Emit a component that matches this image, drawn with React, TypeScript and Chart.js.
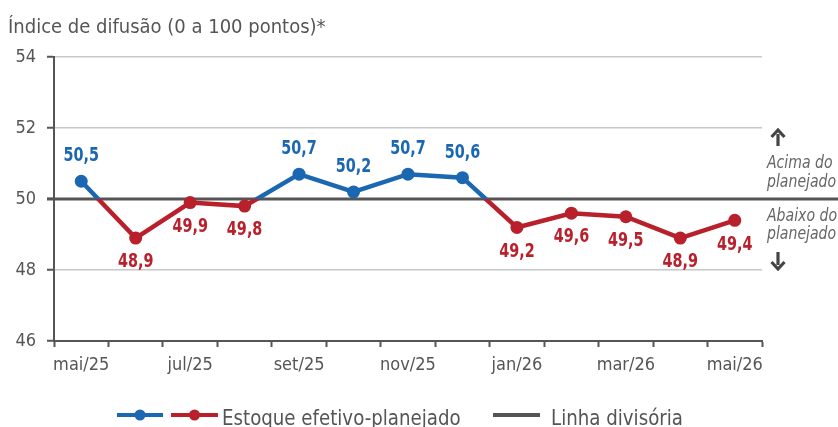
import React, { useEffect, useRef } from 'react';
import { Chart, registerables } from 'chart.js';

Chart.register(...registerables);

const categories = ['mai/25', 'jun/25', 'jul/25', 'ago/25', 'set/25', 'out/25', 'nov/25', 'dez/25', 'jan/26', 'fev/26', 'mar/26', 'abr/26', 'mai/26'];
const estoque = [50.5, 48.9, 49.9, 49.8, 50.7, 50.2, 50.7, 50.6, 49.2, 49.6, 49.5, 48.9, 49.4];
const divisoria = 50;
const yMin = 46;
const yMax = 54;
const yStep = 2;

const subtitle = 'Índice de difusão (0 a 100 pontos)*';
const seriesName = 'Estoque efetivo-planejado';
const dividerName = 'Linha divisória';
const aboveText = ['Acima do', 'planejado'];
const belowText = ['Abaixo do', 'planejado'];

const BLUE = '#1b67b2';
const RED = '#b8202b';
const DARK = '#555555';
const GRID = '#c8c8c8';
const FONT = '"Liberation Sans Narrow", "DejaVu Sans Condensed", "Roboto Condensed", sans-serif';

const fmt = (v: number) => v.toFixed(1).replace('.', ',');
const colorFor = (v: number) => (v > divisoria ? BLUE : RED);

function narrowText(c: CanvasRenderingContext2D, text: string, x: number, y: number, sx: number) {
  c.save();
  c.translate(x, y);
  c.scale(sx, 1);
  c.fillText(text, 0, 0);
  c.restore();
}

function drawArrow(c: CanvasRenderingContext2D, x: number, y1: number, y2: number) {
  const dir = y2 > y1 ? 1 : -1;
  c.save();
  c.strokeStyle = '#444';
  c.lineWidth = 3.2;
  c.lineCap = 'butt';
  c.beginPath();
  c.moveTo(x, y1);
  c.lineTo(x, y2 - dir * 4);
  c.stroke();
  c.lineJoin = 'miter';
  c.beginPath();
  c.moveTo(x - 6.5, y2 - dir * 7);
  c.lineTo(x, y2);
  c.lineTo(x + 6.5, y2 - dir * 7);
  c.stroke();
  c.restore();
}

const decorPlugin = {
  id: 'decor',
  beforeDatasetsDraw(chart: any) {
    const { ctx: c, chartArea, scales } = chart;
    const y = scales.y.getPixelForValue(divisoria);
    c.save();
    c.strokeStyle = DARK;
    c.lineWidth = 3;
    c.beginPath();
    c.moveTo(chartArea.left - 7, y);
    c.lineTo(chart.width, y);
    c.stroke();
    c.restore();
  },
  afterDatasetsDraw(chart: any) {
    const { ctx: c } = chart;
    const meta = chart.getDatasetMeta(0);
    c.save();
    c.font = `bold 20px ${FONT}`;
    c.textAlign = 'center';
    c.textBaseline = 'middle';
    meta.data.forEach((pt: any, i: number) => {
      const v = estoque[i];
      c.fillStyle = colorFor(v);
      const dy = v > divisoria ? -25 : 24;
      narrowText(c, fmt(v), pt.x, pt.y + dy, 0.8);
    });
    c.restore();
  },
  afterDraw(chart: any) {
    const { ctx: c, scales } = chart;
    c.save();
    c.font = `20px ${FONT}`;
    c.fillStyle = DARK;
    c.textAlign = 'left';
    c.textBaseline = 'alphabetic';
    c.fillText(subtitle, 8, 33);

    const y50 = scales.y.getPixelForValue(divisoria);
    drawArrow(c, 778, 146, 130);
    drawArrow(c, 778, 252, 269);
    c.font = `italic 17px ${FONT}`;
    c.fillStyle = '#666';
    c.textAlign = 'left';
    narrowText(c, aboveText[0], 767, y50 - 31, 0.92);
    narrowText(c, aboveText[1], 767, y50 - 12, 0.92);
    narrowText(c, belowText[0], 767, y50 + 22, 0.92);
    narrowText(c, belowText[1], 767, y50 + 40, 0.92);

    const ly = 415;
    const seg = (x1: number, x2: number, col: string, marker: boolean) => {
      c.strokeStyle = col;
      c.lineWidth = 4;
      c.beginPath();
      c.moveTo(x1, ly);
      c.lineTo(x2, ly);
      c.stroke();
      if (marker) {
        c.fillStyle = col;
        c.beginPath();
        c.arc((x1 + x2) / 2, ly, 5.5, 0, Math.PI * 2);
        c.fill();
      }
    };
    seg(117, 163, BLUE, true);
    seg(171, 218, RED, true);
    seg(493, 540, DARK, false);
    c.font = `22px ${FONT}`;
    c.fillStyle = DARK;
    c.textBaseline = 'alphabetic';
    narrowText(c, seriesName, 222, 425, 0.92);
    narrowText(c, dividerName, 551, 425, 0.92);
    c.restore();
  },
};

export default function App() {
  const ref = useRef<HTMLCanvasElement | null>(null);

  useEffect(() => {
    if (!ref.current) return;
    const chart = new Chart(ref.current, {
      type: 'line',
      data: {
        labels: categories,
        datasets: [
          {
            label: seriesName,
            data: estoque,
            borderWidth: 4.5,
            tension: 0,
            borderColor: (ctx: any) => {
              const ch = ctx.chart;
              const { chartArea, scales } = ch;
              if (!chartArea || !scales.y) return BLUE;
              const y = scales.y.getPixelForValue(divisoria);
              const g = ch.ctx.createLinearGradient(0, chartArea.top, 0, chartArea.bottom);
              const f = Math.min(1, Math.max(0, (y - chartArea.top) / (chartArea.bottom - chartArea.top)));
              g.addColorStop(0, BLUE);
              g.addColorStop(f, BLUE);
              g.addColorStop(f, RED);
              g.addColorStop(1, RED);
              return g;
            },
            pointRadius: 6.5,
            pointBorderWidth: 0,
            pointBackgroundColor: (ctx: any) => colorFor(estoque[ctx.dataIndex]),
            pointBorderColor: (ctx: any) => colorFor(estoque[ctx.dataIndex]),
          },
        ],
      },
      options: {
        animation: false,
        responsive: false,
        events: [],
        layout: { padding: { top: 57, right: 76, left: 0, bottom: 0 } },
        plugins: {
          legend: { display: false },
          tooltip: { enabled: false },
          title: { display: false },
        },
        scales: {
          x: {
            type: 'category',
            offset: true,
            grid: {
              offset: true,
              drawOnChartArea: false,
              drawTicks: true,
              tickLength: 6,
              tickWidth: 2,
              tickColor: DARK,
            },
            border: { display: true, color: DARK, width: 2 },
            ticks: {
              autoSkip: false,
              maxRotation: 0,
              minRotation: 0,
              padding: 8,
              color: DARK,
              font: { family: FONT, size: 18 },
              callback: (_v: any, i: number) => (i % 2 === 0 ? categories[i] : ''),
            },
            afterFit: (s: any) => {
              s.height = 427 - 341;
            },
          },
          y: {
            min: yMin,
            max: yMax,
            grid: {
              color: (ctx: any) => (ctx.tick && ctx.tick.value === yMin ? 'rgba(0,0,0,0)' : GRID),
              lineWidth: 1.5,
              tickLength: 7,
              tickWidth: 2,
              tickColor: DARK,
            },
            border: { display: true, color: DARK, width: 2 },
            ticks: {
              stepSize: yStep,
              padding: 11,
              color: DARK,
              font: { family: FONT, size: 18 },
            },
            afterFit: (s: any) => {
              s.width = 54;
            },
          },
        },
      },
      plugins: [decorPlugin],
    } as any);
    return () => chart.destroy();
  }, []);

  return (
    <div style={{ position: 'fixed', left: 0, top: 0, width: 838, height: 427, background: '#fff' }}>
      <canvas ref={ref} width={838} height={427} style={{ display: 'block' }} />
    </div>
  );
}
